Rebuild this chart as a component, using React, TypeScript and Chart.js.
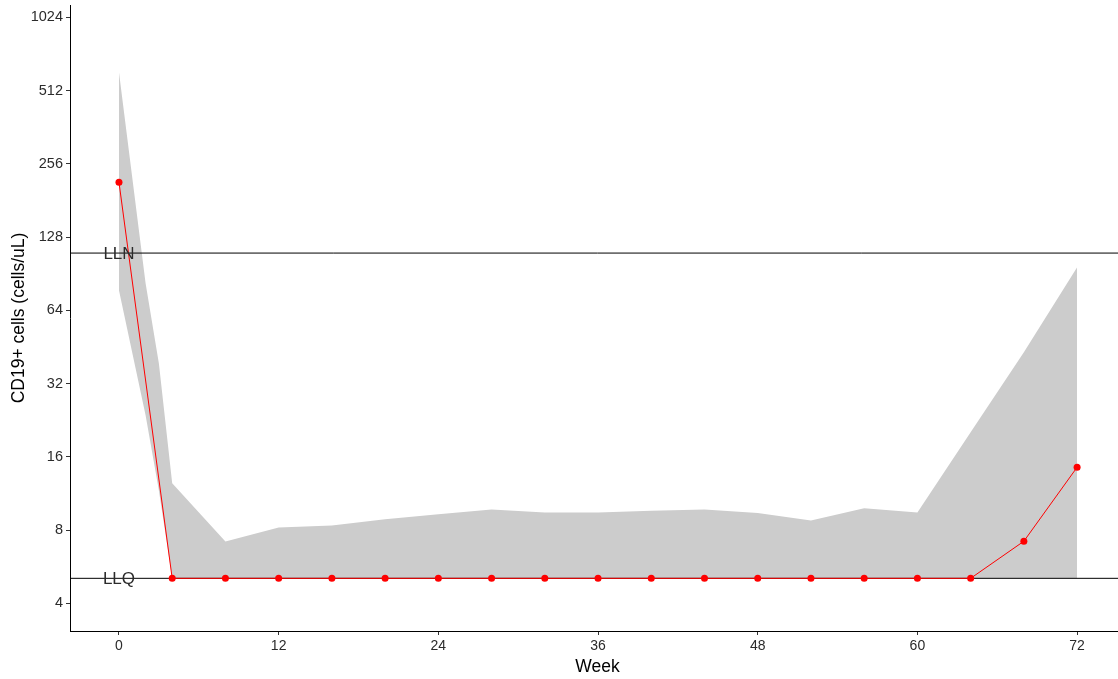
import React, { useEffect, useRef } from "react";
import { Chart, registerables } from "chart.js";

Chart.register(...registerables);

// ---- data ----
const WEEKS = [0, 4, 8, 12, 16, 20, 24, 28, 32, 36, 40, 44, 48, 52, 56, 60, 64, 68, 72];
const CD19 = [215, 5.07, 5.07, 5.07, 5.07, 5.07, 5.07, 5.07, 5.07, 5.07, 5.07, 5.07, 5.07, 5.07, 5.07, 5.07, 5.07, 7.2, 14.5];

const RIBBON_WEEKS = [0, 2, 3, 4, 8, 12, 16, 20, 24, 28, 32, 36, 40, 44, 48, 52, 56, 60, 64, 68, 72];
const RIBBON_UPPER = [609, 82.6, 38.7, 12.45, 7.19, 8.2, 8.35, 8.86, 9.29, 9.73, 9.46, 9.46, 9.6, 9.73, 9.4, 8.77, 9.83, 9.46, 20.2, 43, 96.1];
const RIBBON_LOWER = [77.3, 23.7, 11.65, 5.07, 5.07, 5.07, 5.07, 5.07, 5.07, 5.07, 5.07, 5.07, 5.07, 5.07, 5.07, 5.07, 5.07, 5.07, 5.07, 5.07, 5.07];

const REF_LABELS = ["LLN", "LLQ"];
const REF_VALUES = [110, 5.07];

const X_TICKS = [0, 12, 24, 36, 48, 60, 72];
const Y_TICKS = [4, 8, 16, 32, 64, 128, 256, 512, 1024];

const X_MIN = -3.68;
const X_MAX = 75.6;
const Y_MIN = 3.08;
const Y_MAX = 1150;

const FONT = '"Liberation Sans", Arial, Helvetica, sans-serif';

const refLabelPlugin = {
  id: "refLabels",
  afterDatasetsDraw(chart: any) {
    const { ctx, scales } = chart;
    const x = scales.x;
    const y = scales.y;
    ctx.save();
    ctx.font = `17px ${FONT}`;
    ctx.fillStyle = "#2b2b2b";
    ctx.textAlign = "center";
    ctx.textBaseline = "middle";
    REF_LABELS.forEach((t, i) => {
      ctx.fillText(t, x.getPixelForValue(0), y.getPixelForValue(REF_VALUES[i]) + 1);
    });
    ctx.restore();
  },
};

export default function App() {
  const ref = useRef<HTMLCanvasElement | null>(null);

  useEffect(() => {
    if (!ref.current) return;
    Chart.defaults.font.family = FONT;

    const hline = (v: number) => [
      { x: X_MIN, y: v },
      { x: X_MAX, y: v },
    ];

    const zeroPad = (s: any) => {
      s.paddingTop = 0;
      s.paddingBottom = 0;
      s.paddingLeft = 0;
      s.paddingRight = 0;
    };

    const chart = new Chart(ref.current, {
      type: "line",
      data: {
        datasets: [
          {
            label: "CD19",
            data: WEEKS.map((w, i) => ({ x: w, y: CD19[i] })),
            borderColor: "#FF0000",
            borderWidth: 1,
            pointRadius: 3.5,
            pointBackgroundColor: "#FF0000",
            pointBorderWidth: 0,
            fill: false,
            tension: 0,
          },
          {
            label: "LLN",
            data: hline(REF_VALUES[0]),
            borderColor: "#000000",
            borderWidth: 1,
            pointRadius: 0,
            fill: false,
          },
          {
            label: "LLQ",
            data: hline(REF_VALUES[1]),
            borderColor: "#000000",
            borderWidth: 1,
            pointRadius: 0,
            fill: false,
          },
          {
            label: "upper",
            data: RIBBON_WEEKS.map((w, i) => ({ x: w, y: RIBBON_UPPER[i] })),
            borderColor: "rgba(0,0,0,0)",
            borderWidth: 0,
            pointRadius: 0,
            backgroundColor: "#CCCCCC",
            fill: "+1",
            tension: 0,
          },
          {
            label: "lower",
            data: RIBBON_WEEKS.map((w, i) => ({ x: w, y: RIBBON_LOWER[i] })),
            borderColor: "rgba(0,0,0,0)",
            borderWidth: 0,
            pointRadius: 0,
            fill: false,
            tension: 0,
          },
        ],
      },
      options: {
        animation: false,
        responsive: false,
        maintainAspectRatio: false,
        layout: { padding: { top: 5, right: 1, left: 0, bottom: 0 } },
        plugins: {
          legend: { display: false },
          tooltip: { enabled: false },
        },
        scales: {
          x: {
            type: "linear",
            min: X_MIN,
            max: X_MAX,
            afterBuildTicks: (s: any) => {
              s.ticks = X_TICKS.map((v) => ({ value: v }));
            },
            afterFit: (s: any) => {
              s.height = 48;
              zeroPad(s);
            },
            grid: {
              drawOnChartArea: false,
              drawTicks: true,
              tickLength: 4,
              color: "#333333",
            },
            border: { display: true, color: "#000000", width: 1 },
            ticks: {
              color: "#2b2b2b",
              font: { size: 14 },
              padding: 3,
              maxRotation: 0,
              autoSkip: false,
              callback: (v: any) => String(v),
            },
            title: {
              display: true,
              text: "Week",
              color: "#000000",
              font: { size: 17.5 },
              padding: { top: 0, bottom: 1 },
            },
          },
          y: {
            type: "logarithmic",
            min: Y_MIN,
            max: Y_MAX,
            afterBuildTicks: (s: any) => {
              s.ticks = Y_TICKS.map((v) => ({ value: v }));
            },
            afterFit: (s: any) => {
              s.width = 70;
              zeroPad(s);
            },
            grid: {
              drawOnChartArea: false,
              drawTicks: true,
              tickLength: 4,
              color: "#333333",
            },
            border: { display: true, color: "#000000", width: 1 },
            ticks: {
              color: "#2b2b2b",
              font: { size: 14.5 },
              padding: 3,
              autoSkip: false,
              callback: (v: any) => String(v),
            },
            title: {
              display: true,
              text: "CD19+ cells (cells/uL)",
              color: "#000000",
              font: { size: 17.5 },
              padding: { top: 9, bottom: 0 },
            },
          },
        },
      },
      plugins: [refLabelPlugin],
    } as any);

    return () => chart.destroy();
  }, []);

  return (
    <div
      style={{
        position: "fixed",
        left: 0,
        top: 0,
        width: 1118,
        height: 679,
        overflow: "hidden",
        background: "#FFFFFF",
      }}
    >
      <canvas ref={ref} width={1129} height={679} style={{ display: "block", width: 1129, height: 679 }} />
    </div>
  );
}
